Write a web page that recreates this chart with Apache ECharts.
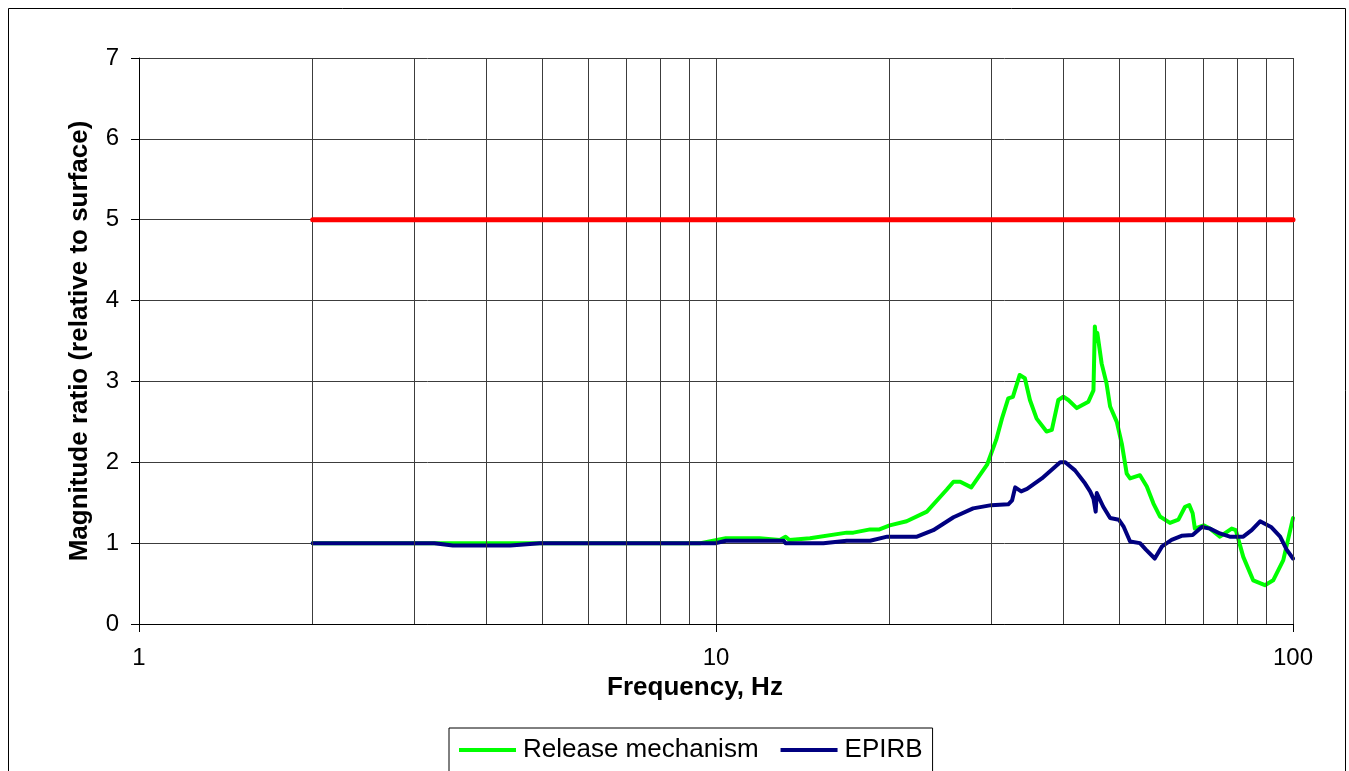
<!DOCTYPE html>
<html>
<head>
<meta charset="utf-8">
<script src="https://cdn.jsdelivr.net/npm/echarts@6/dist/echarts.min.js"></script>
<style>
  html, body { margin: 0; padding: 0; background: #fff; }
  #chart { width: 1349px; height: 771px; }
</style>
</head>
<body>
<div id="chart"></div>
<script>
// Frequency response of the release mechanism and EPIRB, relative to surface input
const releaseFreq = [2, 3.2, 5, 9.4, 10.4, 11.9, 12.9, 13.2, 13.4, 14.55, 16.85, 17.3, 18.5, 19.2, 20.0, 21.4, 23.2, 25.1, 25.8, 26.5, 27.7, 29.5, 30.6, 31.3, 32.1, 32.7, 33.6, 34.3, 35.0, 35.95, 37.4, 38.2, 39.2, 40.0, 40.8, 42.2, 44.2, 45.1, 45.35, 45.6, 45.8, 46.6, 47.5, 48.2, 49.5, 50.5, 51.5, 52.2, 54.3, 55.8, 57.3, 58.8, 61.2, 63.3, 65.0, 66.1, 67.0, 67.6, 70, 71.8, 74.7, 78.3, 79.6, 82.0, 85.3, 89.4, 92.4, 96.2, 100];
const releaseRatio = [1.0, 1.0, 1.0, 1.0, 1.06, 1.06, 1.04, 1.08, 1.04, 1.06, 1.13, 1.13, 1.17, 1.17, 1.22, 1.27, 1.39, 1.66, 1.76, 1.76, 1.69, 1.97, 2.28, 2.54, 2.79, 2.81, 3.08, 3.04, 2.77, 2.54, 2.38, 2.40, 2.77, 2.81, 2.77, 2.67, 2.75, 2.89, 3.68, 3.5, 3.6, 3.22, 2.98, 2.69, 2.50, 2.23, 1.86, 1.80, 1.84, 1.70, 1.49, 1.33, 1.25, 1.29, 1.45, 1.47, 1.37, 1.18, 1.22, 1.18, 1.08, 1.18, 1.16, 0.83, 0.54, 0.48, 0.54, 0.79, 1.31];

const epirbFreq = [2, 3.25, 3.5, 4.4, 4.95, 10.0, 10.4, 13.1, 13.2, 15.35, 16.85, 18.5, 19.8, 22.3, 23.8, 25.8, 27.9, 30.0, 32.1, 32.6, 33.0, 33.8, 34.6, 36.7, 39.5, 40.3, 41.9, 43.6, 44.5, 45.1, 45.5, 45.7, 46.0, 46.9, 48.2, 49.9, 50.9, 52.2, 54.3, 55.6, 57.6, 59.3, 61.6, 64.1, 67, 69.5, 71.8, 74.7, 77.7, 82, 84.8, 87.7, 91.6, 95.0, 97.5, 100];
const epirbRatio = [1.0, 1.0, 0.97, 0.97, 1.0, 1.0, 1.03, 1.03, 1.0, 1.0, 1.03, 1.03, 1.08, 1.08, 1.16, 1.32, 1.43, 1.47, 1.48, 1.53, 1.69, 1.64, 1.67, 1.80, 2.0, 2.0, 1.90, 1.74, 1.64, 1.55, 1.39, 1.62, 1.60, 1.45, 1.31, 1.29, 1.20, 1.02, 1.0, 0.92, 0.81, 0.96, 1.04, 1.09, 1.10, 1.20, 1.18, 1.12, 1.08, 1.08, 1.16, 1.27, 1.20, 1.08, 0.92, 0.81];

// Limit line
const limitFreq = [2, 100];
const limitRatio = [5, 5];

// Vertical gridlines on the log frequency axis
const gridFreqs = [2, 3, 4, 5, 6, 7, 8, 9, 10, 20, 30, 40, 50, 60, 70, 80, 90, 100];

const FONT = '"Liberation Sans", Arial, sans-serif';
const pairs = (xs, ys) => xs.map((x, i) => [x, ys[i]]);

const chart = echarts.init(document.getElementById('chart'));
chart.setOption({
  animation: false,
  backgroundColor: '#fff',
  grid: { left: 139, right: 56, top: 58, bottom: 147, containLabel: false },
  xAxis: {
    type: 'log',
    logBase: 10,
    min: 1,
    max: 100,
    axisLine: { show: true, lineStyle: { color: '#000', width: 1 } },
    axisTick: { show: true, length: 8, lineStyle: { color: '#000' } },
    axisLabel: { fontSize: 24, color: '#000', fontFamily: FONT, margin: 22 },
    splitLine: { show: false },
    minorTick: { show: false }
  },
  yAxis: {
    type: 'value',
    min: 0,
    max: 7,
    interval: 1,
    axisLine: { show: true, lineStyle: { color: '#000', width: 1 } },
    axisTick: { show: true, length: 8, lineStyle: { color: '#000' } },
    axisLabel: { fontSize: 24, color: '#000', fontFamily: FONT, margin: 20 },
    splitLine: { show: true, lineStyle: { color: '#3c3c3c', width: 1 } }
  },
  legend: {
    data: ['Release mechanism', 'EPIRB'],
    left: 449,
    top: 728,
    orient: 'horizontal',
    icon: 'rect',
    itemWidth: 57,
    itemHeight: 4,
    itemGap: 22,
    padding: [9, 10, 9, 10],
    borderColor: '#000',
    borderWidth: 1,
    textStyle: { fontSize: 26, color: '#000', fontFamily: FONT, padding: [0, 0, 0, 2] },
    selectedMode: false
  },
  graphic: [
    {
      type: 'rect',
      silent: true,
      shape: { x: 8.5, y: 8.5, width: 1337, height: 800 },
      style: { fill: 'none', stroke: '#000', lineWidth: 1 }
    },
    {
      type: 'text',
      silent: true,
      x: 695,
      y: 688,
      style: {
        text: 'Frequency, Hz',
        font: 'bold 26px ' + FONT,
        fill: '#000',
        textAlign: 'center',
        textVerticalAlign: 'middle'
      }
    },
    {
      type: 'text',
      silent: true,
      x: 80,
      y: 341,
      rotation: Math.PI / 2,
      style: {
        text: 'Magnitude ratio (relative to surface)',
        font: 'bold 26px ' + FONT,
        fill: '#000',
        textAlign: 'center',
        textVerticalAlign: 'middle'
      }
    }
  ],
  series: [
    {
      name: 'gridlines',
      type: 'line',
      data: [],
      z: 1,
      silent: true,
      markLine: {
        silent: true,
        symbol: ['none', 'none'],
        label: { show: false },
        emphasis: { disabled: true },
        lineStyle: { color: '#3c3c3c', width: 1, type: 'solid' },
        data: gridFreqs.map(f => ({ xAxis: f }))
      }
    },
    {
      name: 'Release mechanism',
      type: 'line',
      data: pairs(releaseFreq, releaseRatio),
      showSymbol: false,
      symbol: 'none',
      z: 3,
      color: '#00ff00',
      lineStyle: { color: '#00ff00', width: 4, join: 'round', cap: 'round' },
      emphasis: { disabled: true }
    },
    {
      name: 'EPIRB',
      type: 'line',
      data: pairs(epirbFreq, epirbRatio),
      showSymbol: false,
      symbol: 'none',
      z: 4,
      color: '#000080',
      lineStyle: { color: '#000080', width: 4, join: 'round', cap: 'round' },
      emphasis: { disabled: true }
    },
    {
      name: 'Limit',
      type: 'line',
      data: pairs(limitFreq, limitRatio),
      showSymbol: false,
      symbol: 'none',
      z: 5,
      color: '#ff0000',
      lineStyle: { color: '#ff0000', width: 5, cap: 'round' },
      emphasis: { disabled: true }
    }
  ]
});
</script>
</body>
</html>
